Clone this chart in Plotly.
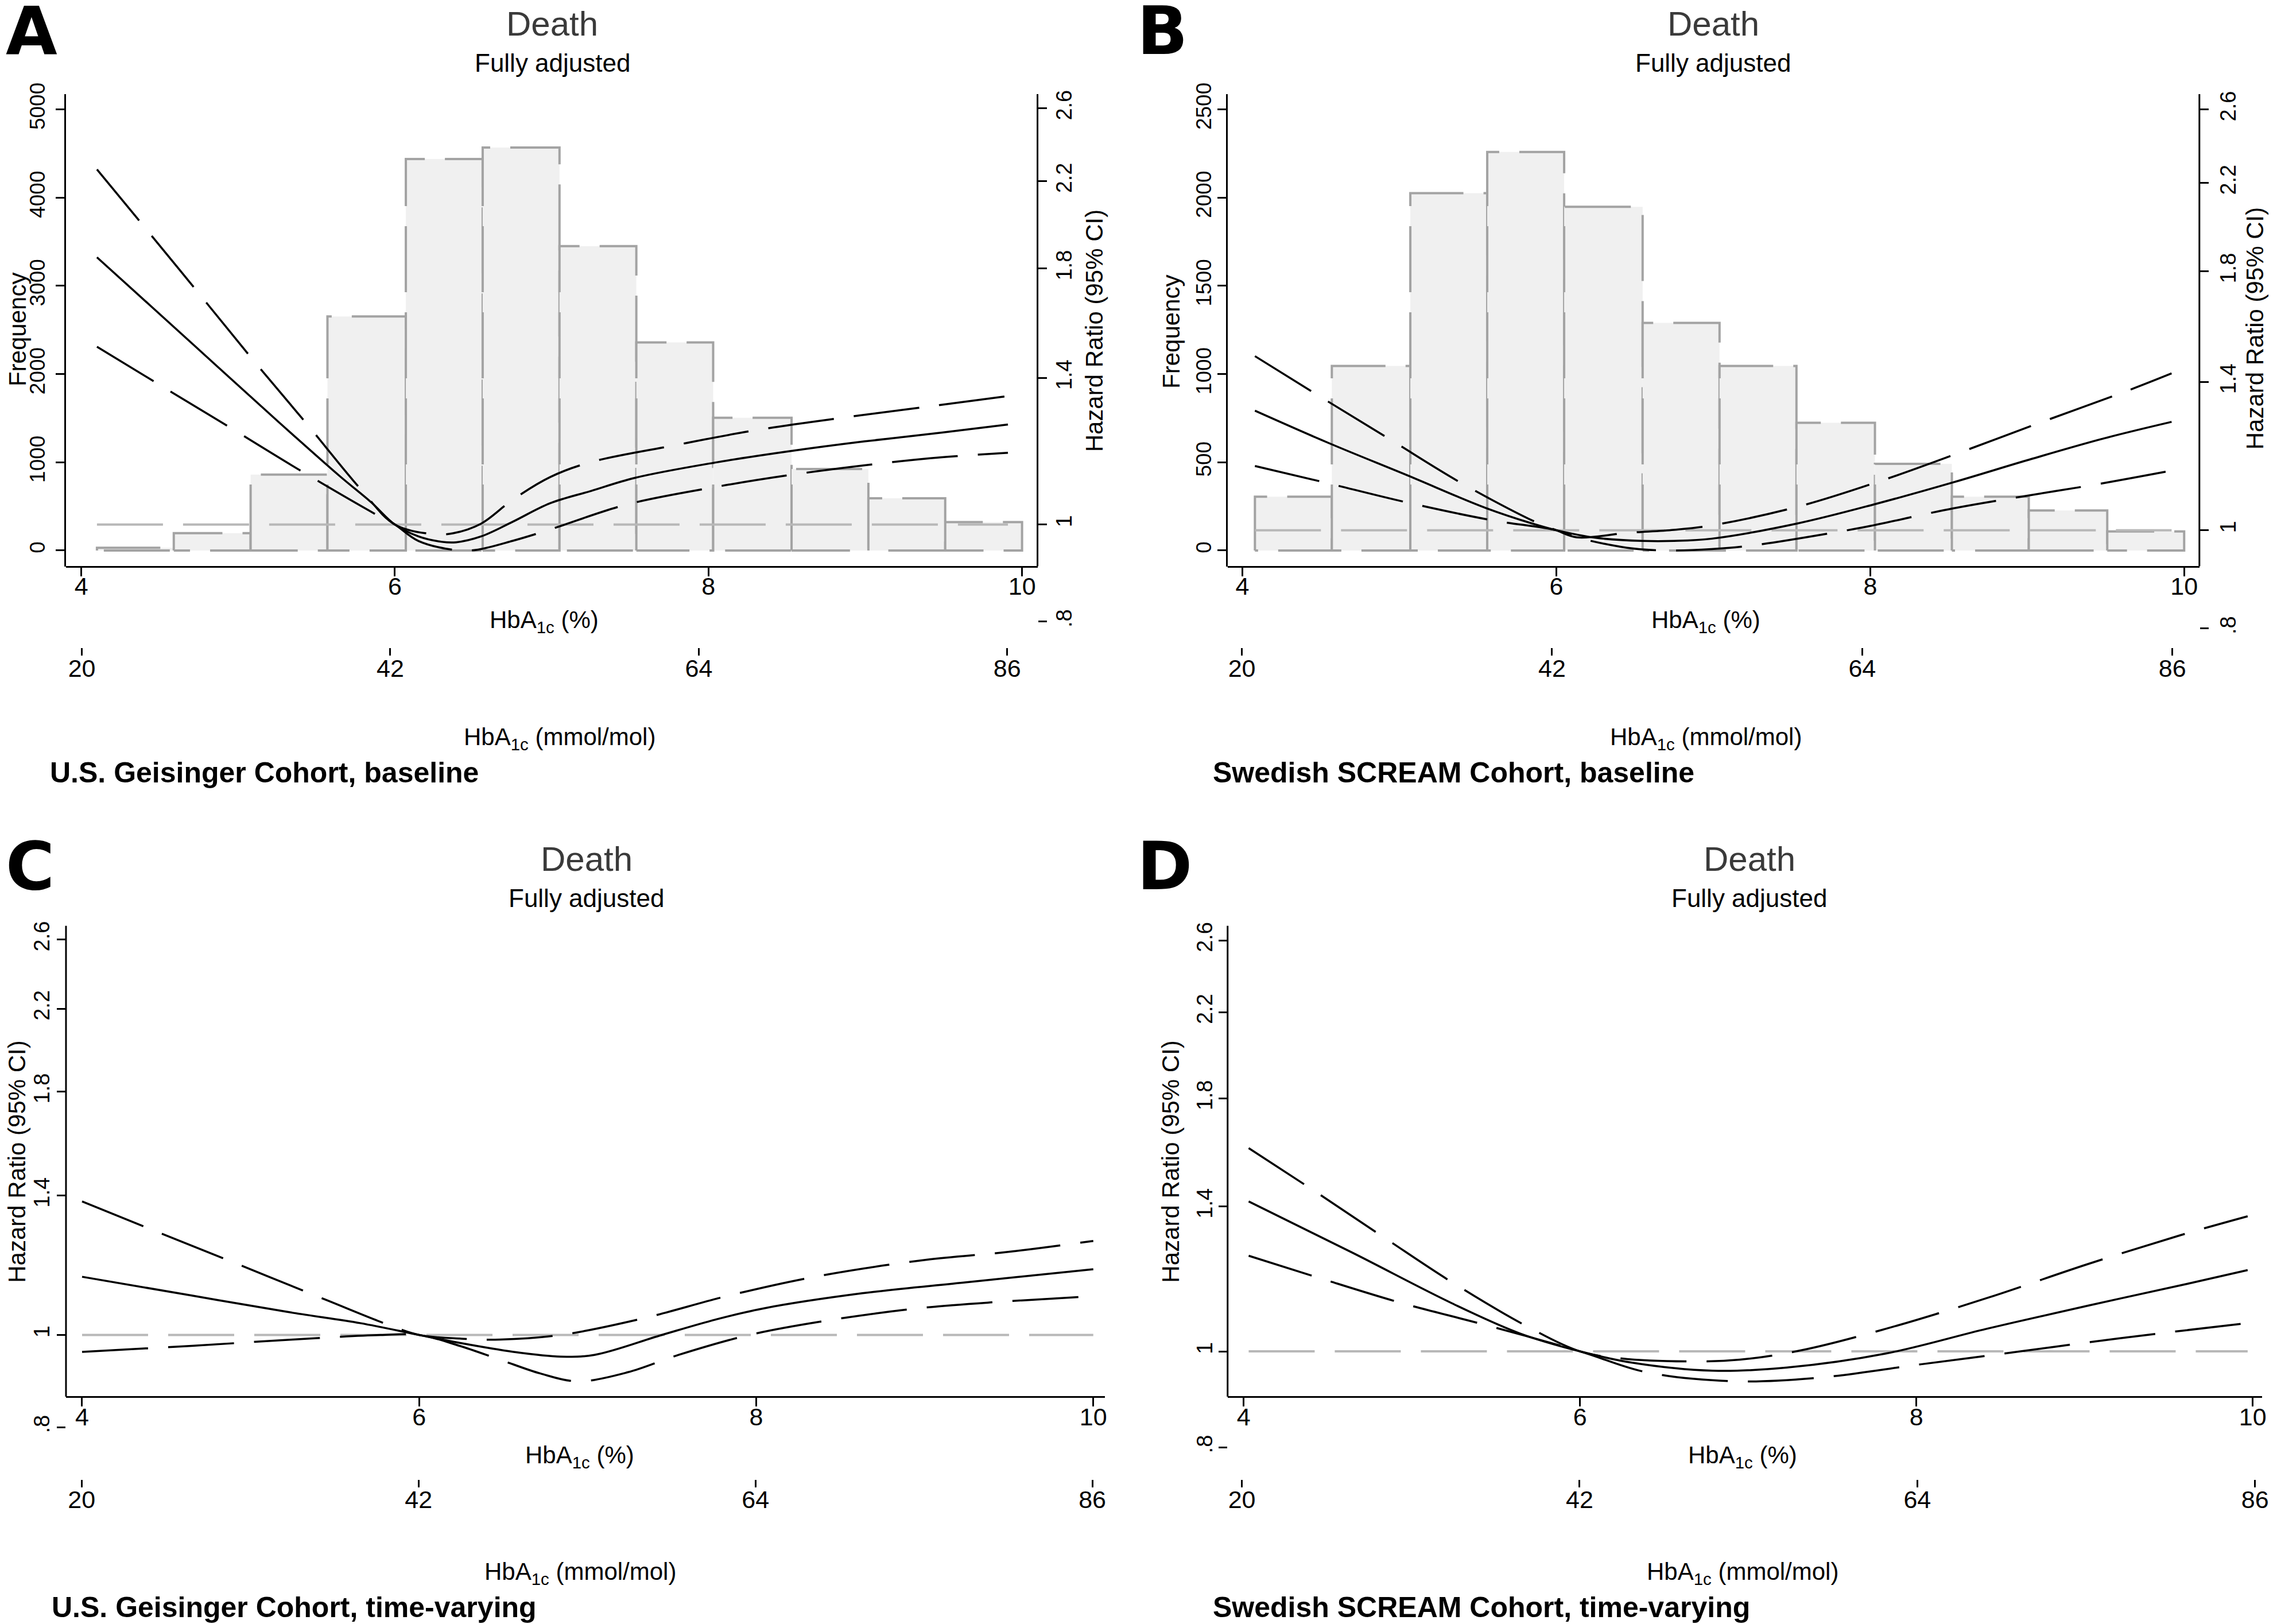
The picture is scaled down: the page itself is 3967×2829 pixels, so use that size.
import plotly.graph_objects as go

W, H = 3967, 2829
OFF = 8  # the page body margin shifts the figure by 8 px; compensate
FONT = "Liberation Sans, Arial, sans-serif"


def px(x):
    return (x - OFF) / W


def py(y):
    return 1 - (y - OFF) / H


# ---------------- data ----------------
pct_ticks = [4, 6, 8, 10]
mmol_ticks = [20, 42, 64, 86]
hr_ticks = [0.8, 1, 1.4, 1.8, 2.2, 2.6]
hr_labels = [".8", "1", "1.4", "1.8", "2.2", "2.6"]

# A: U.S. Geisinger, baseline
a_edges = [4.10, 4.59, 5.08, 5.57, 6.07, 6.56, 7.05, 7.54, 8.03, 8.53, 9.02, 9.51, 10.0]
a_counts = [30, 197, 860, 2652, 4437, 4567, 3449, 2358, 1505, 924, 592, 322]
a_freq_ticks = [0, 1000, 2000, 3000, 4000, 5000]

a_hr_x = [4.10, 4.45, 4.85, 5.25, 5.65, 5.85, 6.00, 6.15, 6.30, 6.39, 6.55, 6.75, 6.99,
          7.25, 7.53, 8.03, 8.53, 8.99, 9.49, 9.91]
a_hr = [1.847, 1.648, 1.446, 1.269, 1.117, 1.052, 1.000, 0.973, 0.961, 0.960, 0.973, 1.006,
        1.050, 1.080, 1.113, 1.152, 1.184, 1.210, 1.235, 1.258]
a_up_x = [4.10, 4.38, 4.73, 5.08, 5.44, 5.79, 6.00, 6.25, 6.37, 6.55, 6.75, 6.99, 7.25,
          7.79, 8.29, 8.89, 9.43, 9.91]
a_up = [2.26, 2.00, 1.715, 1.469, 1.259, 1.081, 1.000, 0.978, 0.980, 1.002, 1.058, 1.115,
        1.154, 1.200, 1.241, 1.280, 1.313, 1.343]
a_lo_x = [4.10, 4.48, 4.95, 5.43, 5.91, 6.00, 6.15, 6.41, 6.53, 6.75, 6.95, 7.06, 7.48,
          8.03, 8.53, 9.13, 9.49, 9.91]
a_lo = [1.504, 1.384, 1.249, 1.124, 1.017, 1.000, 0.963, 0.942, 0.944, 0.963, 0.984, 0.997,
        1.047, 1.089, 1.121, 1.152, 1.167, 1.179]
a_ref_x = [4.10, 9.91]

# B: Swedish SCREAM, baseline
b_edges = [4.08, 4.57, 5.07, 5.56, 6.05, 6.55, 7.04, 7.53, 8.03, 8.52, 9.01, 9.51, 10.0]
b_counts = [305, 1046, 2025, 2258, 1948, 1290, 1046, 724, 491, 305, 227, 108]
b_freq_ticks = [0, 500, 1000, 1500, 2000, 2500]

b_hr_x = [4.08, 4.55, 5.05, 5.55, 5.85, 6.00, 6.25, 6.55, 6.75, 6.99, 7.53, 8.03, 8.53,
          9.03, 9.49, 9.92]
b_hr = [1.312, 1.219, 1.133, 1.052, 1.015, 1.000, 0.983, 0.976, 0.976, 0.981, 1.015, 1.061,
        1.115, 1.176, 1.232, 1.279]
b_up_x = [4.08, 4.45, 4.93, 5.40, 5.89, 6.00, 6.13, 6.45, 6.75, 6.99, 7.53, 8.07, 8.59,
          9.09, 9.64, 9.92]
b_up = [1.485, 1.368, 1.232, 1.112, 1.015, 1.000, 0.984, 0.994, 1.001, 1.011, 1.054, 1.119,
        1.196, 1.278, 1.373, 1.428]
b_lo_x = [4.08, 4.51, 5.05, 5.59, 6.00, 6.13, 6.45, 6.69, 6.99, 7.25, 7.79, 7.99, 8.53,
          8.99, 9.43, 9.92]
b_lo = [1.157, 1.116, 1.065, 1.023, 1.000, 0.984, 0.961, 0.955, 0.958, 0.966, 0.996, 1.009,
        1.051, 1.081, 1.109, 1.145]
b_ref_x = [4.08, 9.92]

# C: U.S. Geisinger, time-varying
c_hr_x = [4.00, 4.65, 5.25, 5.65, 6.00, 6.24, 6.56, 6.84, 7.04, 7.44, 7.76, 8.04, 8.63,
          9.23, 10.00]
c_hr = [1.151, 1.100, 1.055, 1.029, 1.000, 0.981, 0.960, 0.949, 0.953, 1.000, 1.038, 1.066,
        1.106, 1.135, 1.172]
c_up_x = [4.00, 4.37, 4.85, 5.45, 5.81, 6.00, 6.25, 6.48, 6.84, 7.32, 7.84, 8.36, 8.99,
          9.51, 10.00]
c_up = [1.381, 1.299, 1.201, 1.088, 1.026, 1.000, 0.991, 0.989, 1.000, 1.040, 1.100, 1.152,
        1.198, 1.223, 1.255]
c_lo_x = [4.00, 4.65, 5.25, 5.77, 6.00, 6.24, 6.48, 6.72, 6.94, 7.24, 7.54, 7.96, 8.43,
          8.95, 9.43, 10.00]
c_lo = [0.960, 0.974, 0.989, 1.000, 1.000, 0.974, 0.942, 0.911, 0.894, 0.914, 0.953, 1.000,
        1.036, 1.066, 1.083, 1.098]
c_ref_x = [4.00, 10.00]

# D: Swedish SCREAM, time-varying
d_hr_x = [4.03, 4.65, 5.24, 5.64, 6.00, 6.31, 6.79, 7.23, 7.82, 8.42, 9.02, 9.61, 9.97]
d_hr = [1.417, 1.257, 1.118, 1.043, 1.000, 0.974, 0.956, 0.963, 0.995, 1.054, 1.112, 1.170,
        1.208]
d_up_x = [4.03, 4.45, 4.85, 5.24, 5.68, 6.00, 6.24, 6.63, 6.95, 7.31, 7.82, 8.42, 9.02,
          9.57, 9.97]
d_up = [1.604, 1.441, 1.298, 1.174, 1.061, 1.000, 0.984, 0.977, 0.981, 1.002, 1.054, 1.132,
        1.225, 1.310, 1.369]
d_lo_x = [4.03, 4.45, 4.93, 5.44, 6.00, 6.39, 6.91, 7.43, 8.02, 8.62, 9.21, 9.97]
d_lo = [1.249, 1.186, 1.120, 1.063, 1.000, 0.953, 0.933, 0.941, 0.970, 1.000, 1.031, 1.068]
d_ref_x = [4.03, 9.97]

DASH = "115px,35px"

fig = go.Figure()


def add_hist(edges, counts, xa, ya):
    for i, c in enumerate(counts):
        l, r = edges[i], edges[i + 1]
        fig.add_trace(go.Scatter(
            x=[l, l, r, r, l], y=[0, c, c, 0, 0], mode="lines", fill="toself",
            fillcolor="#f0f0f0", line=dict(color="#a3a3a3", width=4, dash=DASH),
            xaxis=xa, yaxis=ya, hoverinfo="skip", showlegend=False))


def add_curves(ref_x, series, xa, ya, mmol_xa):
    fig.add_trace(go.Scatter(
        x=ref_x, y=[1, 1], mode="lines",
        line=dict(color="#b8b8b8", width=4, dash=DASH),
        xaxis=xa, yaxis=ya, hoverinfo="skip", showlegend=False))
    for xs, ys, dash in series:
        fig.add_trace(go.Scatter(
            x=xs, y=ys, mode="lines",
            line=dict(color="black", width=3.5, shape="spline", dash=dash),
            xaxis=xa, yaxis=ya, hoverinfo="skip", showlegend=False))
    # carrier for the mmol/mol axis
    fig.add_trace(go.Scatter(
        x=[mmol_ticks[0], mmol_ticks[-1]], y=[1, 1], mode="lines",
        line=dict(color="rgba(0,0,0,0)", width=0),
        xaxis=mmol_xa, yaxis=ya, hoverinfo="skip", showlegend=False))


add_hist(a_edges, a_counts, "x", "y")
add_curves(a_ref_x, [(a_up_x, a_up, DASH), (a_hr_x, a_hr, "solid"), (a_lo_x, a_lo, DASH)],
           "x", "y2", "x2")
add_hist(b_edges, b_counts, "x3", "y3")
add_curves(b_ref_x, [(b_up_x, b_up, DASH), (b_hr_x, b_hr, "solid"), (b_lo_x, b_lo, DASH)],
           "x3", "y4", "x4")
add_curves(c_ref_x, [(c_up_x, c_up, DASH), (c_hr_x, c_hr, "solid"), (c_lo_x, c_lo, DASH)],
           "x5", "y5", "x6")
add_curves(d_ref_x, [(d_up_x, d_up, DASH), (d_hr_x, d_hr, "solid"), (d_lo_x, d_lo, DASH)],
           "x7", "y6", "x8")


def pct_axis(x0, x1, rng, ypos):
    return dict(domain=[px(x0), px(x1)], range=rng, anchor="free", position=py(ypos),
                showline=True, linecolor="black", linewidth=3, ticks="outside", ticklen=15,
                tickwidth=3, tickcolor="black", tickvals=pct_ticks, tickangle=0,
                ticklabelstandoff=-19,
                tickfont=dict(family=FONT, size=43, color="black"),
                showgrid=False, zeroline=False)


def mmol_axis(x0, x1, rng, ypos):
    return dict(domain=[px(x0), px(x1)], range=rng, anchor="free", position=py(ypos),
                showline=False, ticks="outside", ticklen=13, tickwidth=3, tickcolor="black",
                tickvals=mmol_ticks, tickangle=0, ticklabelstandoff=-15,
                tickfont=dict(family=FONT, size=43, color="black"),
                showgrid=False, zeroline=False)


def freq_axis(anchor, rng, ticks, ybot, ytop, standoff):
    return dict(domain=[py(ybot), py(ytop)], range=rng, anchor=anchor, side="left",
                showline=True, linecolor="black", linewidth=3, ticks="outside", ticklen=15,
                tickwidth=3, tickcolor="black", tickvals=ticks, tickangle=-90,
                ticklabelstandoff=standoff,
                tickfont=dict(family=FONT, size=37, color="black"),
                showgrid=False, zeroline=False)


def hr_axis(anchor, side, rng, ybot, ytop, standoff):
    return dict(type="log", domain=[py(ybot), py(ytop)], range=rng, anchor=anchor, side=side,
                showline=False, ticks="outside", ticklen=15, tickwidth=3, tickcolor="black",
                tickvals=hr_ticks, ticktext=hr_labels, tickangle=-90,
                ticklabelstandoff=standoff,
                tickfont=dict(family=FONT, size=38, color="black"),
                showgrid=False, zeroline=False)


layout_axes = dict(
    xaxis=pct_axis(115.4, 1813, [3.9029, 10.0985], 973.4),
    xaxis2=mmol_axis(115.4, 1813, [18.873, 88.16], 1116),
    yaxis=freq_axis("x", [-179.6, 5172], a_freq_ticks, 973.4, 145, 4),
    yaxis2=hr_axis("x", "right", [-0.1137, 0.4292], 1100, 145, -2),
    xaxis3=pct_axis(2145.4, 3843.4, [3.9067, 10.097], 973.4),
    xaxis4=mmol_axis(2145.4, 3843.4, [18.997, 87.915], 1116),
    yaxis3=freq_axis("x3", [-89.8, 2586], b_freq_ticks, 973.4, 145, -4),
    yaxis4=hr_axis("x3", "right", [-0.1068, 0.4301], 1100, 145, 2),
    xaxis5=pct_axis(115.3, 1930.5, [3.9046, 10.068], 2430.2),
    xaxis6=mmol_axis(115.3, 1930.5, [18.976, 86.81], 2575),
    yaxis5=hr_axis("x5", "left", [-0.1305, 0.4294], 2540, 1604, -2),
    xaxis7=pct_axis(2145.2, 3953, [3.9047, 10.056], 2430.2),
    xaxis8=mmol_axis(2145.2, 3953, [19.072, 86.46], 2575),
    yaxis6=hr_axis("x7", "left", [-0.1205, 0.4297], 2560, 1604, -4),
)

# axis lines for the hazard-ratio axes (stop at the x axis, like the original)
shapes = []
for xl, yb, yt in [(1813, 973.4, 145), (3843.4, 973.4, 145),
                   (115.3, 2430.2, 1604), (2145.2, 2430.2, 1604)]:
    shapes.append(dict(type="line", xref="paper", yref="paper", x0=px(xl), x1=px(xl),
                       y0=py(yb), y1=py(yt), line=dict(color="black", width=3)))

ann = []


def text(x, y, s, size, color="black", bold=False, angle=0, xanchor="center", family=FONT):
    ann.append(dict(x=px(x), y=py(y), xref="paper", yref="paper", text=s, showarrow=False,
                    xanchor=xanchor, yanchor="middle", textangle=angle,
                    font=dict(family=family, size=size, color=color,
                              weight="bold" if bold else "normal")))


hba_pct = "HbA<sub>1c</sub> (%)"
hba_mmol = "HbA<sub>1c</sub> (mmol/mol)"
hr_title = "Hazard Ratio (95% CI)"

panels = [
    # letter x, title x, vertical offset, x-title x, mmol-title x, caption x, caption y, caption
    ("A", 8, 965, 0, 951, 978, 85, 1335, "U.S. Geisinger Cohort, baseline"),
    ("B", 1985, 2994, 0, 2981, 2981, 2117, 1335, "Swedish SCREAM Cohort, baseline"),
    ("C", 8, 1025, 1465, 1013, 1014, 88, 2800, "U.S. Geisinger Cohort, time-varying"),
    ("D", 1985, 3057, 1465, 3045, 3045, 2117, 2800, "Swedish SCREAM Cohort, time-varying"),
]
for letter, lx, tx, dy, xt, mt, cx, cy, cap in panels:
    text(lx, 34 + dy, letter, 116, bold=True, xanchor="left",
         family="DejaVu Sans, Liberation Sans, sans-serif")
    text(tx, 22 + dy, "Death", 60, color="#3a3a3a")
    text(tx, 90 + dy, "Fully adjusted", 44)
    text(xt, 1070 + dy, hba_pct, 42)
    text(mt, 1275 + dy, hba_mmol, 42)
    text(cx, cy, cap, 50, bold=True, xanchor="left")

text(30, 558, "Frequency", 42, angle=-90)
text(2046, 562, "Frequency", 42, angle=-90)
text(1912, 560, hr_title, 42, angle=-90)
text(3940, 556, hr_title, 42, angle=-90)
text(30, 2018, hr_title, 42, angle=-90)
text(2046, 2018, hr_title, 42, angle=-90)

fig.update_layout(
    width=W, height=H, margin=dict(l=0, r=0, t=0, b=0),
    paper_bgcolor="white", plot_bgcolor="rgba(0,0,0,0)",
    showlegend=False, hovermode=False,
    shapes=shapes, annotations=ann,
    **layout_axes,
)

fig.write_html("out.html")
